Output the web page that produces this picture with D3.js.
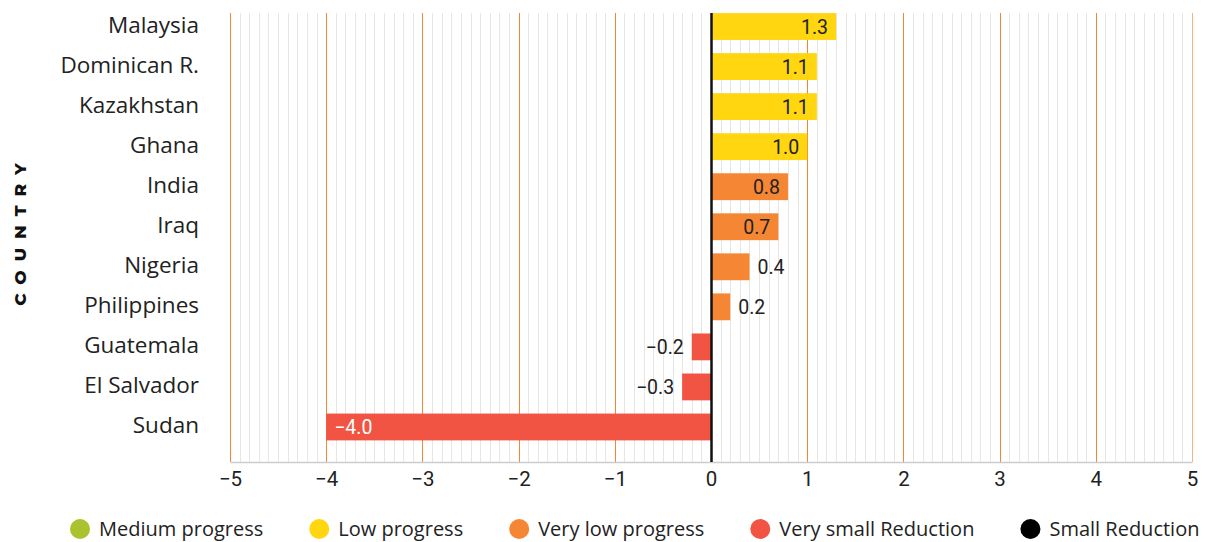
<!DOCTYPE html>
<html>
<head>
<meta charset="utf-8">
<script src="https://cdn.jsdelivr.net/npm/d3@7"></script>
<style>
  html, body { margin: 0; padding: 0; background: #fff; }
  svg { display: block; }
</style>
</head>
<body>
<div id="chart"></div>
<script>
// Country progress index, 11 countries, top to bottom
const countries = ["Malaysia", "Dominican R.", "Kazakhstan", "Ghana", "India", "Iraq",
                   "Nigeria", "Philippines", "Guatemala", "El Salvador", "Sudan"];
const values = [1.3, 1.1, 1.1, 1.0, 0.8, 0.7, 0.4, 0.2, -0.2, -0.3, -4.0];
const groups = ["Low progress", "Low progress", "Low progress", "Low progress",
                "Very low progress", "Very low progress", "Very low progress", "Very low progress",
                "Very small Reduction", "Very small Reduction", "Very small Reduction"];
const legendLabels = ["Medium progress", "Low progress", "Very low progress",
                      "Very small Reduction", "Small Reduction"];
const legendColors = ["#a9c22e", "#ffd60f", "#f58634", "#f15442", "#000000"];
const xTicks = [-5, -4, -3, -2, -1, 0, 1, 2, 3, 4, 5];
const axisTitle = "COUNTRY";

const W = 1205, H = 542;
const plot = { left: 230, right: 1192, top: 13, bottom: 462 };
const labelFont = "'Open Sans', sans-serif";
const numFont = "Roboto, sans-serif";

const color = d3.scaleOrdinal().domain(legendLabels).range(legendColors);

const x = d3.scaleLinear().domain([-5, 5]).range([plot.left, plot.right]);
const y = d3.scaleBand().domain(countries).range([6.5, 447])
  .paddingInner(0.33).paddingOuter(0.165);

const svg = d3.select("#chart").append("svg")
  .attr("width", W).attr("height", H);

// Minor grid every 0.1
const minor = d3.range(-50, 51).filter(i => i % 10 !== 0).map(i => i / 10);
svg.append("g").selectAll("line").data(minor).join("line")
  .attr("x1", d => Math.round(x(d)) + 0.5).attr("x2", d => Math.round(x(d)) + 0.5)
  .attr("y1", plot.top).attr("y2", plot.bottom)
  .attr("stroke", "#e6e6e6").attr("stroke-width", 1);

// Major grid at each integer
svg.append("g").selectAll("line").data(xTicks.filter(d => d !== 0)).join("line")
  .attr("x1", d => Math.round(x(d)) + 0.5).attr("x2", d => Math.round(x(d)) + 0.5)
  .attr("y1", plot.top).attr("y2", plot.bottom)
  .attr("stroke", d => d === 5 ? "#f8b27e" : "#f58634").attr("stroke-width", 1);

// Bars
const rows = countries.map((c, i) => ({ country: c, value: values[i], group: groups[i] }));
svg.append("g").selectAll("rect").data(rows).join("rect")
  .attr("x", d => x(Math.min(0, d.value)))
  .attr("y", d => y(d.country))
  .attr("width", d => Math.abs(x(d.value) - x(0)))
  .attr("height", y.bandwidth())
  .attr("fill", d => color(d.group));

// Bottom axis
const xAxis = svg.append("g")
  .attr("transform", `translate(0,${plot.bottom})`)
  .call(d3.axisBottom(x).tickValues(xTicks).tickSize(0).tickPadding(9));
xAxis.select(".domain").attr("stroke", "#cccccc").attr("stroke-width", 1.5);
xAxis.selectAll("text")
  .attr("font-family", numFont).attr("font-size", 20.5).attr("fill", "#222");

// Zero line
svg.append("line")
  .attr("x1", x(0) + 0.5).attr("x2", x(0) + 0.5)
  .attr("y1", plot.top).attr("y2", plot.bottom)
  .attr("stroke", "#111").attr("stroke-width", 2.5);

// Value labels
const fmt = d3.format(".1f");
const pad = 8;
svg.append("g").selectAll("text").data(rows).join("text")
  .each(function (d) {
    const w = Math.abs(x(d.value) - x(0));
    const inside = w > 60;
    const t = d3.select(this)
      .attr("y", y(d.country) + y.bandwidth() / 2)
      .attr("dy", "0.36em")
      .attr("font-family", numFont).attr("font-size", 19.5)
      .text(fmt(d.value));
    if (d.value >= 0) {
      if (inside) t.attr("x", x(d.value) - pad).attr("text-anchor", "end").attr("fill", "#222");
      else t.attr("x", x(d.value) + pad).attr("text-anchor", "start").attr("fill", "#222");
    } else {
      if (inside) t.attr("x", x(d.value) + pad).attr("text-anchor", "start").attr("fill", "#fff");
      else t.attr("x", x(d.value) - pad).attr("text-anchor", "end").attr("fill", "#222");
    }
  });

// Country labels
svg.append("g").selectAll("text").data(countries).join("text")
  .attr("x", 199)
  .attr("y", d => y(d) + y.bandwidth() / 2 - 1.5)
  .attr("dy", "0.35em")
  .attr("text-anchor", "end")
  .attr("font-family", labelFont).attr("font-size", 22.5).attr("fill", "#222")
  .text(d => d);

// Axis title
svg.append("text")
  .attr("transform", `translate(26,${230}) rotate(-90)`)
  .attr("text-anchor", "middle")
  .attr("font-family", "Montserrat, 'Open Sans', sans-serif")
  .attr("font-weight", 800).attr("font-size", 17)
  .attr("letter-spacing", 9).attr("fill", "#111")
  .text(axisTitle);

// Legend
const legend = svg.append("g").attr("transform", `translate(0,529)`);
let cx = 80;
legendLabels.forEach((lab, i) => {
  const g = legend.append("g");
  g.append("circle").attr("cx", cx).attr("cy", 0).attr("r", 10).attr("fill", legendColors[i]);
  const t = g.append("text").attr("x", cx + 19).attr("y", 0).attr("dy", "0.35em")
    .attr("font-family", labelFont).attr("font-size", 20).attr("fill", "#222").text(lab);
  const w = t.node().getComputedTextLength();
  cx = cx + 19 + w + 56;
});
</script>
</body>
</html>
